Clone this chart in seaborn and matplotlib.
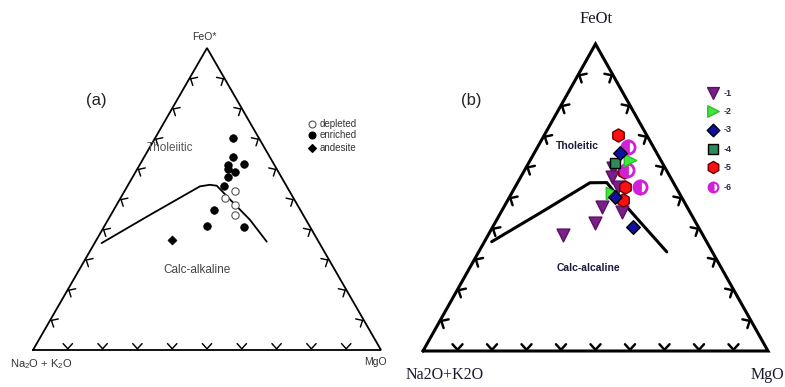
import numpy as np
import pandas as pd
import matplotlib
matplotlib.use("Agg")
import matplotlib.pyplot as plt
import seaborn as sns

sns.set_style("white")
plt.rcParams["mathtext.default"] = "regular"

# ---------------- data (ternary %: FeO, Na2O+K2O, MgO) ----------------
# panel (a)
a_enriched_F = [70.2, 63.9, 61.7, 61.1, 60.0, 58.8, 57.3, 54.4, 46.2, 41.1, 40.7]
a_enriched_A = [7.5, 10.6, 8.5, 13.5, 13.9, 12.5, 15.4, 17.9, 24.9, 29.5, 19.0]
a_enriched_M = [22.3, 25.4, 29.8, 25.4, 26.1, 28.6, 27.3, 27.7, 28.9, 29.3, 40.3]
a_depleted_F = [52.5, 50.3, 48.1, 44.8]
a_depleted_A = [15.7, 19.7, 17.9, 19.6]
a_depleted_M = [31.8, 30.0, 34.0, 35.7]
a_andesite_F = [36.3]
a_andesite_A = [42.0]
a_andesite_M = [21.7]

# Tholeiitic / calc-alkaline boundary
a_line_F = [35.4, 45.0, 54.2, 54.7, 54.4, 48.8, 43.1, 35.9]
a_line_A = [62.6, 43.5, 24.9, 21.8, 20.0, 18.1, 16.1, 14.9]
a_line_M = [2.0, 11.5, 20.9, 23.5, 25.6, 33.1, 40.8, 49.2]

# panel (b)
b_groups = ["-1", "-2", "-3", "-4", "-5", "-6"]
b_F = {
    "-1": [59.5, 56.8, 53.5, 46.8, 45.4, 41.8, 37.8],
    "-2": [62.2, 51.4],
    "-3": [64.4, 40.5, 50.3],
    "-4": [61.1],
    "-5": [70.4, 58.4, 53.3, 49.2],
    "-6": [66.5, 59.0, 53.3],
}
b_A = {
    "-1": [15.1, 16.9, 16.6, 24.8, 19.7, 29.3, 40.6],
    "-2": [8.9, 19.6],
    "-3": [10.7, 18.8, 19.2],
    "-4": [13.8],
    "-5": [8.2, 12.5, 14.8, 17.3],
    "-6": [7.2, 11.5, 10.4],
}
b_M = {
    "-1": [25.4, 26.3, 29.9, 28.4, 34.9, 29.0, 21.6],
    "-2": [28.9, 29.0],
    "-3": [24.9, 40.7, 30.5],
    "-4": [25.1],
    "-5": [21.4, 29.1, 31.9, 33.5],
    "-6": [26.2, 29.6, 36.2],
}
b_line_F = [35.6, 45.0, 54.8, 54.8, 47.0, 32.3]
b_line_A = [62.3, 43.5, 24.2, 19.3, 17.5, 13.2]
b_line_M = [2.1, 11.5, 21.0, 25.8, 35.5, 54.5]

H = np.sqrt(3) / 2


def tern(F, A, M):
    F = np.asarray(F, float); A = np.asarray(A, float); M = np.asarray(M, float)
    s = F + A + M
    f, m = F / s, M / s
    return m + f / 2, f * H


W, Hpx = 785, 387
fig = plt.figure(figsize=(W / 100, Hpx / 100), dpi=100)


def make_ax(x0, y0, x1, y1):
    # pixel box (left, top, right, bottom) of triangle vertices
    ax = fig.add_axes([x0 / W, 1 - y1 / Hpx, (x1 - x0) / W, (y1 - y0) / Hpx])
    ax.set_xlim(0, 1)
    ax.set_ylim(0, H)
    ax.axis("off")
    return ax


def draw_frame(ax, pxw, pxh, lw, arm=7.0):
    ax.plot([0, 1, 0.5, 0], [0, 0, H, 0], color="black", lw=lw, clip_on=False,
            solid_joinstyle="miter")
    sx = 1.0 / pxw          # data units per px in x
    sy = H / pxh            # data units per px in y
    edges = [((0, 0), (1, 0), 90), ((0, 0), (0.5, H), -30), ((1, 0), (0.5, H), 210)]
    for p0, p1, nang in edges:
        for t in np.arange(0.1, 0.95, 0.1):
            vx = p0[0] + (p1[0] - p0[0]) * t
            vy = p0[1] + (p1[1] - p0[1]) * t
            nx, ny = np.cos(np.radians(nang)), np.sin(np.radians(nang))
            vx += nx * 1.2 * sx; vy += ny * 1.2 * sy
            for d in (-42, 42):
                a = np.radians(nang + d)
                ax.plot([vx, vx + np.cos(a) * arm * sx],
                        [vy, vy + np.sin(a) * arm * sy],
                        color="black", lw=lw * 0.8, clip_on=False,
                        solid_capstyle="round")


# ---------------- panel (a) ----------------
axa = make_ax(33, 48, 381, 350)
draw_frame(axa, 348, 302, 1.3)
lx, ly = tern(a_line_F, a_line_A, a_line_M)
sns.lineplot(x=lx, y=ly, ax=axa, sort=False, estimator=None, color="black", lw=1.3)
ex, ey = tern(a_enriched_F, a_enriched_A, a_enriched_M)
sns.scatterplot(x=ex, y=ey, ax=axa, marker="o", color="black", s=30,
                edgecolor="black", linewidth=0.5, zorder=3)
dx, dy = tern(a_depleted_F, a_depleted_A, a_depleted_M)
sns.scatterplot(x=dx, y=dy, ax=axa, marker="o", facecolor="white", s=28,
                edgecolor="#555555", linewidth=0.8, zorder=3)
nx_, ny_ = tern(a_andesite_F, a_andesite_A, a_andesite_M)
sns.scatterplot(x=nx_, y=ny_, ax=axa, marker="D", color="black", s=22,
                edgecolor="black", zorder=3)

# ---------------- panel (b) ----------------
axb = make_ax(423, 44, 768, 351)
draw_frame(axb, 345, 307, 2.2, arm=7.5)
lx, ly = tern(b_line_F, b_line_A, b_line_M)
sns.lineplot(x=lx, y=ly, ax=axb, sort=False, estimator=None, color="black", lw=2.2)

b_style = {
    "-1": dict(marker="v", fc="#7a1f86", ec="#5a1066", s=85),
    "-2": dict(marker=">", fc="#3ee63e", ec="#2cc02c", s=80),
    "-3": dict(marker="D", fc="#1010a0", ec="black", s=48),
    "-4": dict(marker="s", fc="#2e8b57", ec="black", s=52),
    "-5": dict(marker="h", fc="#ff1010", ec="#660000", s=90),
}
for g in ["-1", "-5", "-6", "-4", "-2", "-3"]:
    x, y = tern(b_F[g], b_A[g], b_M[g])
    if g == "-6":
        axb.plot(x, y, ls="none", marker="o", ms=9.5, fillstyle="left",
                 markerfacecolor="#d020d8", markerfacecoloralt="white",
                 markeredgecolor="#d020d8", mew=2.0, zorder=3)
    else:
        st = b_style[g]
        sns.scatterplot(x=x, y=y, ax=axb, marker=st["marker"], color=st["fc"],
                        edgecolor=st["ec"], linewidth=1.0, s=st["s"], zorder=3)

# ---------------- overlay for text ----------------
ov = fig.add_axes([0, 0, 1, 1])
ov.set_xlim(0, W)
ov.set_ylim(Hpx, 0)
ov.axis("off")

sans = "Liberation Sans"
serif = "Liberation Serif"
ov.text(204, 37, "FeO*", ha="center", va="center", fontsize=7.5, family=sans, color="#333333")
ov.text(41, 364, "Na$_2$O + K$_2$O", ha="center", va="center", fontsize=8, family=sans, color="#333333")
ov.text(375, 362, "MgO", ha="center", va="center", fontsize=7.5, family=sans, color="#333333")
ov.text(96, 100, "(a)", ha="center", va="center", fontsize=12, family=sans, color="#222222")
ov.text(170, 148, "Tholeiitic", ha="center", va="center", fontsize=8.5, family=sans, color="#555555")
ov.text(197, 270, "Calc-alkaline", ha="center", va="center", fontsize=8.5, family=sans, color="#444444")

leg_a = [("depleted", "o", "white", "#555555"), ("enriched", "o", "black", "black"),
         ("andesite", "D", "black", "black")]
for i, (lab, mk, fc, ec) in enumerate(leg_a):
    yy = [124, 135, 148][i]
    ov.plot([312], [yy], marker=mk, ms=5 if mk == "o" else 4.5, mfc=fc, mec=ec, mew=0.8, ls="none")
    ov.text(320, yy, lab, ha="left", va="center", fontsize=7, family=sans, color="#333333")

ov.text(596, 19, "FeOt", ha="center", va="center", fontsize=12, family=serif, color="#1a1a2e")
ov.text(445, 375, "Na2O+K2O", ha="center", va="center", fontsize=11.5, family=serif, color="#1a1a2e")
ov.text(767, 375, "MgO", ha="center", va="center", fontsize=11.5, family=serif, color="#1a1a2e")
ov.text(471, 100, "(b)", ha="center", va="center", fontsize=12, family=sans, color="#222222")
ov.text(577, 146, "Tholeitic", ha="center", va="center", fontsize=7.5, family=sans,
        weight="bold", color="#1a1a3a")
ov.text(588, 268, "Calc-alcaline", ha="center", va="center", fontsize=7.5, family=sans,
        weight="bold", color="#1a1a3a")

leg_y = [93, 111, 130, 149, 167, 187]
for g, yy in zip(b_groups, leg_y):
    if g == "-6":
        ov.plot([713], [yy], ls="none", marker="o", ms=7, fillstyle="left",
                markerfacecolor="#d020d8", markerfacecoloralt="white",
                markeredgecolor="#d020d8", mew=1.5)
    else:
        st = b_style[g]
        ov.scatter([713], [yy], marker=st["marker"], c=st["fc"], edgecolors=st["ec"],
                   s=st["s"] * 0.85, linewidths=1.0)
    ov.text(724, yy, g, ha="left", va="center", fontsize=6.5, family=sans,
            weight="bold", color="#2a2a4a")

fig.savefig("out.png", dpi=100, facecolor="white")
